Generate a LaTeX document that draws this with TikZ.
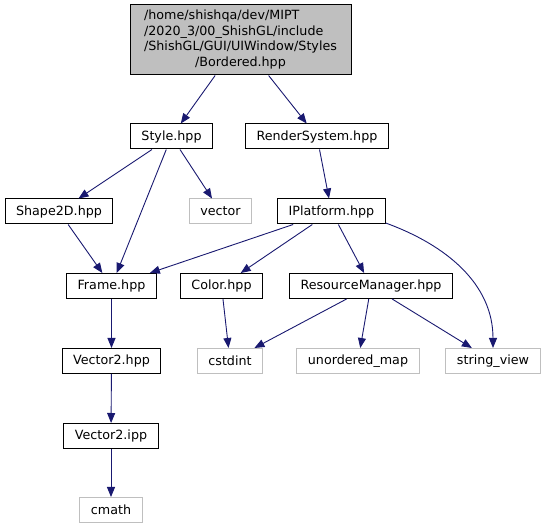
\documentclass[tikz,border=0pt]{standalone}
\usepackage{fontspec}
\setmainfont{DejaVu Sans}
\usetikzlibrary{arrows.meta}
\definecolor{edgeblue}{RGB}{25,25,112}
\definecolor{sysgray}{RGB}{191,191,191}

\begin{document}
\begin{tikzpicture}[
  x=1pt, y=-1pt,
  file/.style={rectangle, draw=black, line width=1pt, minimum height=25pt,
    inner xsep=11pt, inner ysep=0pt, font=\fontsize{12.7}{15.5}\selectfont},
  sysfile/.style={file, draw=sysgray},
  root/.style={file, fill=sysgray, minimum width=221pt, minimum height=70pt},
  dep/.style={-{Triangle[length=10pt,width=8pt]}, draw=edgeblue, line width=0.9pt}
]
  \useasboundingbox (0,0) rectangle (547,529);
  \node[root] (bord) at (240.5,40) {\begin{tabular}{@{}l@{}}/home/shishqa/dev/MIPT\\/2020\_3/00\_ShishGL/include\\/ShishGL/GUI/UIWindow/Styles\\\multicolumn{1}{@{}c@{}}{/Bordered.hpp}\end{tabular}};
  \node[file] (style) at (171.5,136.5) {Style.hpp};
  \node[file] (rsys) at (317,136.5) {RenderSystem.hpp};
  \node[file] (shape) at (59,211.5) {Shape2D.hpp};
  \node[sysfile] (vec) at (220.5,211.5) {vector};
  \node[file] (iplat) at (331.5,211.5) {IPlatform.hpp};
  \node[file] (frame) at (111.5,286) {Frame.hpp};
  \node[file] (color) at (221.5,286) {Color.hpp};
  \node[file] (resm) at (371,286) {ResourceManager.hpp};
  \node[file] (v2h) at (111.5,361) {Vector2.hpp};
  \node[sysfile] (cstd) at (230,361) {cstdint};
  \node[sysfile] (umap) at (358,361) {unordered\_map};
  \node[sysfile] (sview) at (493,361) {string\_view};
  \node[file] (v2i) at (111,436) {Vector2.ipp};
  \node[sysfile] (cmath) at (111,510) {cmath};
  \foreach \from/\to in {bord/style, bord/rsys, style/shape, style/frame, style/vec,
      shape/frame, rsys/iplat, iplat/frame, iplat/color, iplat/resm, color/cstd,
      resm/cstd, resm/umap, resm/sview, frame/v2h, v2h/v2i, v2i/cmath} {
    \draw[dep] (\from) -- (\to);
  }
  \draw[dep] (iplat.-12) to[out=-20, in=90] (sview);
\end{tikzpicture}
\end{document}
